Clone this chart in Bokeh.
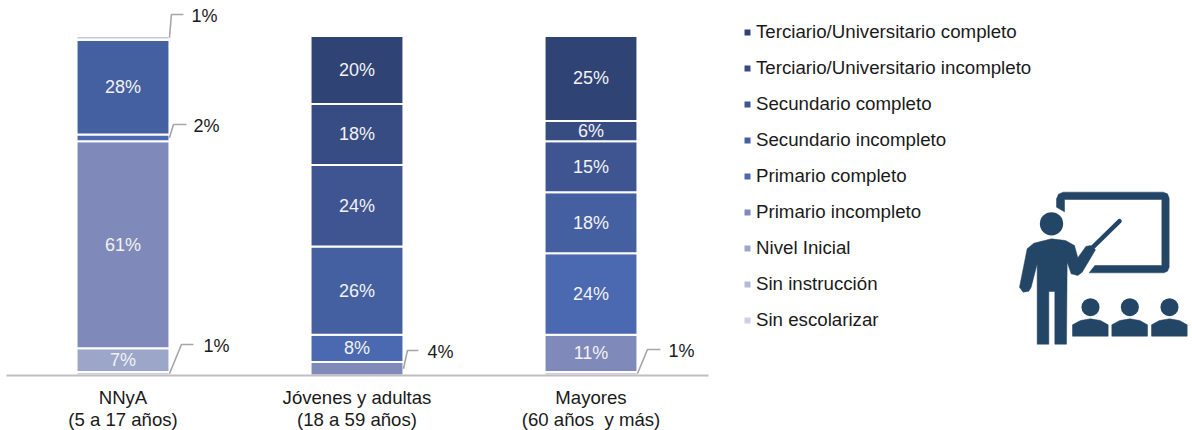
from bokeh.plotting import figure
from bokeh.embed import file_html
from bokeh.resources import INLINE
from bokeh.models import Range1d, FixedTicker, Legend, LegendItem
from bokeh.core.properties import value

categories = ["NNyA\n(5 a 17 años)", "Jóvenes y adultas\n(18 a 59 años)", "Mayores\n(60 años\u00a0 y más)"]
series = ["Sin escolarizar", "Sin instrucción", "Nivel Inicial", "Primario incompleto", "Primario completo",
          "Secundario incompleto", "Secundario completo", "Terciario/Universitario incompleto",
          "Terciario/Universitario completo", "Otro"]
colors = ["#CDD0E2", "#B4BBD7", "#9CA6C9", "#7F8ABA", "#4A69B0", "#4560A0", "#3F5592", "#384C84", "#2F4374", "#C4C6DC"]
sin_escolarizar = [1, 0, 1]
sin_instruccion = [0, 0, 0]
nivel_inicial = [7, 0, 0]
primario_incompleto = [61, 4, 11]
primario_completo = [2, 8, 24]
secundario_incompleto = [28, 26, 18]
secundario_completo = [0, 24, 15]
terciario_incompleto = [0, 18, 6]
terciario_completo = [0, 20, 25]
otro = [1, 0, 0]
columns = [sin_escolarizar, sin_instruccion, nivel_inicial, primario_incompleto, primario_completo,
           secundario_incompleto, secundario_completo, terciario_incompleto, terciario_completo, otro]

FONT = "Liberation Sans"
W = 1192
FRAME_H = 375
PX_X = 234.0      # px per category
PX_Y = 3.395      # px per percent
X0 = 122.5        # frame px of category 0
BAR = 0.397

p = figure(frame_width=W, frame_height=FRAME_H, output_backend="svg", toolbar_location=None,
           x_range=Range1d(-X0 / PX_X, (W - X0) / PX_X), y_range=Range1d(0, FRAME_H / PX_Y),
           min_border_left=0, min_border_right=0, min_border_top=0, min_border_bottom=0,
           outline_line_color=None, background_fill_color="white", border_fill_color="white")
p.grid.visible = False
p.yaxis.visible = False
p.extra_x_ranges["px"] = Range1d(0, W)
p.extra_y_ranges["px"] = Range1d(FRAME_H, 0)

xs = list(range(len(categories)))
data = {"x": xs}
for name, col in zip(series, columns):
    data[name] = col
renderers = p.vbar_stack(series, x="x", width=BAR, source=data, color=colors,
                         line_color="white", line_width=2)

# inside labels and callouts are derived from the stacks
cum = [0, 0, 0]
in_x, in_y, in_t = [], [], []
mids = {}
for name, col in zip(series, columns):
    for i, v in enumerate(col):
        mids[(i, name)] = cum[i] + v / 2
        if v >= 5:
            in_x.append(i); in_y.append(cum[i] + v / 2); in_t.append(f"{v}%")
        cum[i] += v
p.text(in_x, in_y, text=in_t, text_font=value(FONT), text_font_size="18px", text_color="#F2F2F2",
       text_align="center", text_baseline="middle")

# (category, series, label, elbow dx px, elbow y page px, end dx px, label dx px)
callouts = [
    (0, "Otro", "1%", 2, 14, 14, 22),
    (0, "Primario completo", "2%", 4, 124, 17, 24),
    (0, "Sin escolarizar", "1%", 12, 344, 24, 34),
    (1, "Primario incompleto", "4%", 4, 350, 15, 24),
    (2, "Sin escolarizar", "1%", 10, 349, 23, 31),
]
page_y = lambda py: (375 - py) / PX_Y
for i, s, lab, ex, ey, ed, ld in callouts:
    x0 = i + BAR / 2
    p.line([x0, x0 + ex / PX_X, x0 + ed / PX_X], [mids[(i, s)], page_y(ey), page_y(ey)],
           line_color="#A6A6A6", line_width=1.6)
    p.text([x0 + ld / PX_X], [page_y(ey + 1)], text=[lab], text_font=value(FONT), text_font_size="18px",
           text_color="#1A1A1A", text_align="left", text_baseline="middle")

ax = p.xaxis[0]
ax.ticker = FixedTicker(ticks=xs)
ax.major_label_overrides = {i: c for i, c in enumerate(categories)}
ax.bounds = ((6 - X0) / PX_X, (708 - X0) / PX_X)
ax.axis_line_color = "#BFBFBF"
ax.axis_line_width = 2
ax.major_tick_line_color = None
ax.minor_tick_line_color = None
ax.major_label_standoff = 5
ax.major_label_text_font = FONT
ax.major_label_text_font_size = "18.6px"
ax.major_label_text_color = "#1A1A1A"
ax.major_label_text_line_height = 1.05

legend = Legend(items=[LegendItem(label=s, renderers=[r]) for s, r in zip(series[:9][::-1], renderers[:9][::-1])],
                location=(742, 44), orientation="vertical", border_line_color=None,
                background_fill_alpha=0, padding=0, margin=0, spacing=14,
                label_height=20, glyph_height=10, glyph_width=10, label_standoff=4,
                label_text_font=FONT, label_text_font_size="18.7px", label_text_color="#1A1A1A",
                label_text_baseline="middle")
p.add_layout(legend, "center")

# pictogram, in page pixels
ICON = "#234566"
ix = lambda zx: 1000 + zx / 3
iy = lambda zy: 170 + zy / 3
def poly(pts):
    p.patch([ix(a) for a, b in pts], [iy(b) for a, b in pts], fill_color=ICON, line_color=ICON, line_width=0.5,
            x_range_name="px", y_range_name="px")
poly([(168, 110), (168, 85), (174, 71), (188, 65), (488, 65), (501, 70), (506, 83), (506, 290), (501, 302), (490, 307),
      (266, 307), (283, 285), (484, 285), (484, 87), (192, 87), (192, 124)])
poly([(153, 205), (195, 210), (222, 225), (232, 262), (256, 228), (270, 225), (285, 238), (245, 305), (232, 315),
      (212, 310), (200, 275), (198, 521), (163, 521), (163, 363), (145, 363), (145, 521), (110, 521), (110, 280),
      (92, 350), (85, 362), (68, 365), (57, 350), (80, 235), (100, 218)])
p.line([ix(275), ix(357)], [iy(232), iy(152)], line_color=ICON, line_width=4.5, line_cap="round",
       x_range_name="px", y_range_name="px")
p.circle([ix(153)], [iy(160)], radius=35 / 3, fill_color=ICON, line_color=None, x_range_name="px", y_range_name="px")
for cx in (270, 388, 507):
    p.circle([ix(cx)], [iy(410)], radius=27 / 3, fill_color=ICON, line_color=None, x_range_name="px", y_range_name="px")
    poly([(cx - 54, 497), (cx - 54, 463), (cx - 30, 450), (cx, 445), (cx + 30, 450), (cx + 53, 463), (cx + 53, 497)])

open("out.html", "w").write(file_html(p, INLINE))
